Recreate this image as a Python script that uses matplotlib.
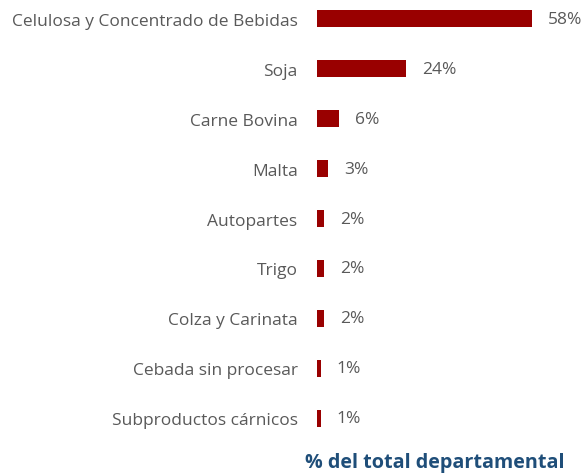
import matplotlib.pyplot as plt

categorias = ["Celulosa y Concentrado de Bebidas", "Soja", "Carne Bovina", "Malta",
              "Autopartes", "Trigo", "Colza y Carinata", "Cebada sin procesar",
              "Subproductos cárnicos"]
valores = [58, 24, 6, 3, 2, 2, 2, 1, 1]
etiquetas = ["58%", "24%", "6%", "3%", "2%", "2%", "2%", "1%", "1%"]

plt.rcParams['font.family'] = ['Open Sans', 'DejaVu Sans']

W, H = 585, 477
fig = plt.figure(figsize=(W / 100, H / 100), dpi=100)
ax = fig.add_axes([317 / W, 1 - 440 / H, (W - 317) / W, 440 / H])

pos = list(range(len(categorias)))
ax.barh(pos, valores, height=0.34, color="#990000")
ax.set_xlim(0, (W - 317) / 3.71)
ax.set_ylim(8.42, -0.4)

for y, v, t in zip(pos, valores, etiquetas):
    ax.annotate(t, (v, y), xytext=(11.5, 0), textcoords="offset points",
                va="center", ha="left", fontsize=12.5, color="#595959")

ax.set_yticks(pos)
ax.set_yticklabels(categorias, fontsize=12.5, color="#595959")
ax.tick_params(axis="y", length=0, pad=14)
ax.set_xticks([])
for s in ax.spines.values():
    s.set_visible(False)

fig.text(305 / W, 1 - 463 / H, "% del total departamental", fontsize=14.2,
         fontweight="bold", color="#1F4E79", va="center", ha="left")

fig.savefig("out.png", dpi=100)
